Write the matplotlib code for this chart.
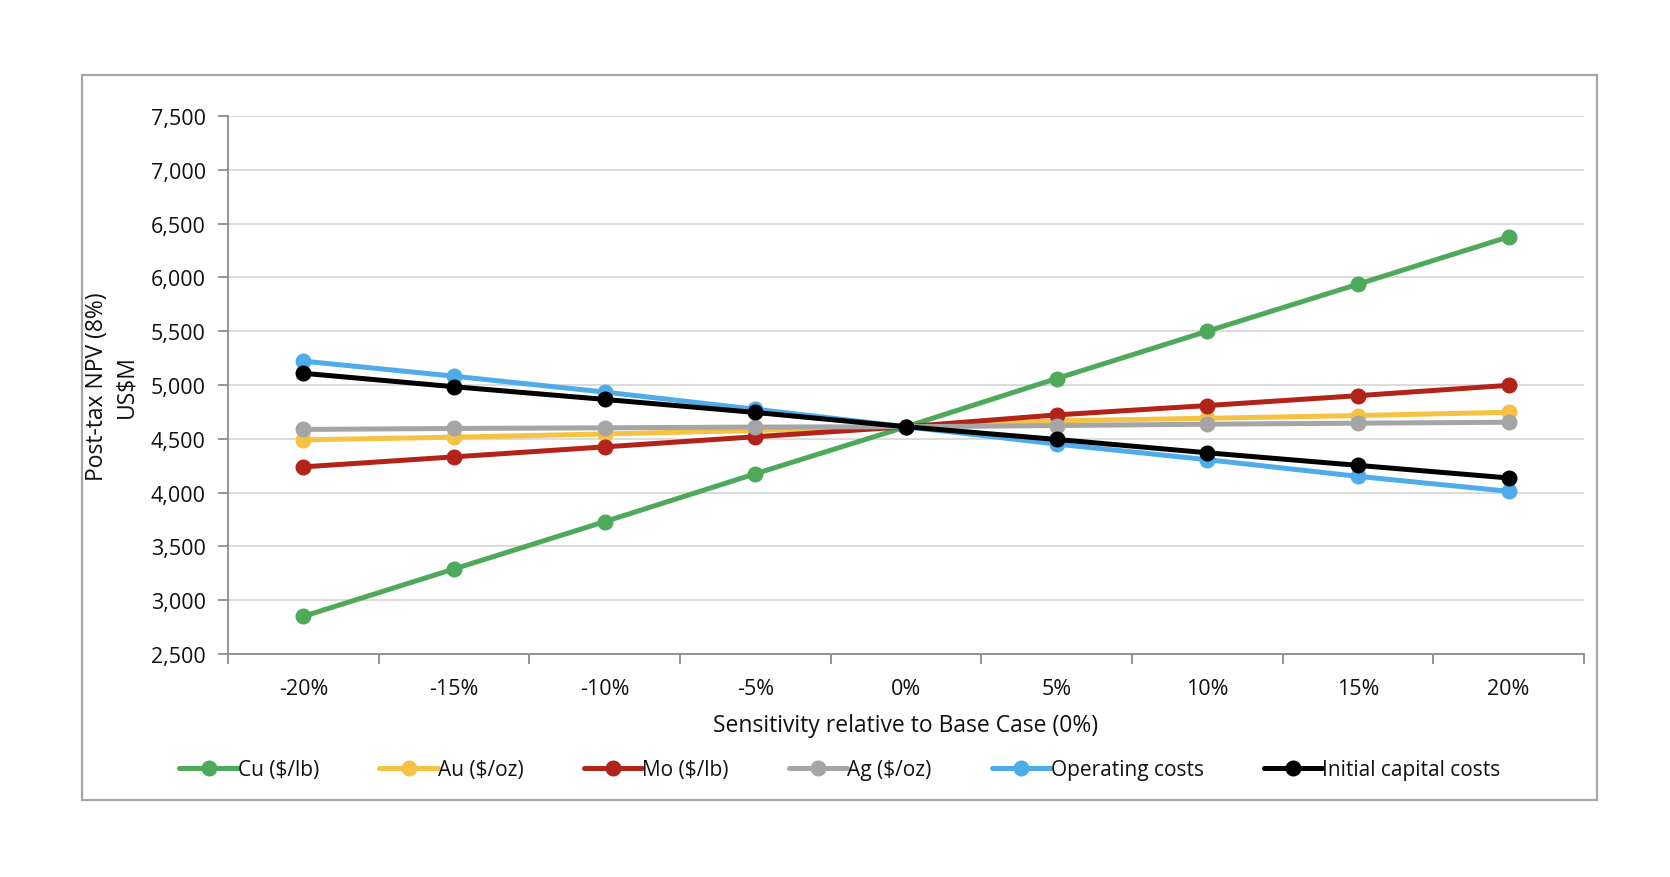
import numpy as np
import matplotlib
matplotlib.use("Agg")
import matplotlib.pyplot as plt
from matplotlib.patches import Rectangle
from matplotlib.ticker import FuncFormatter

plt.rcParams['font.family'] = ['Open Sans', 'DejaVu Sans']

categories = ['-20%', '-15%', '-10%', '-5%', '0%', '5%', '10%', '15%', '20%']
cu = [2850, 3290, 3730, 4175, 4612, 5060, 5500, 5937, 6377]
au = [4490, 4515, 4545, 4578, 4612, 4667, 4691, 4716, 4747]
mo = [4239, 4332, 4425, 4519, 4612, 4722, 4809, 4901, 4997]
ag = [4587, 4596, 4602, 4609, 4612, 4623, 4636, 4645, 4654]
opex = [5222, 5082, 4934, 4775, 4612, 4451, 4306, 4151, 4012]
capex = [5109, 4984, 4866, 4745, 4612, 4494, 4370, 4253, 4136]

series = [
    ('Cu ($/lb)', cu, '#4EA95B'),
    ('Au ($/oz)', au, '#F6C244'),
    ('Mo ($/lb)', mo, '#B2231A'),
    ('Ag ($/oz)', ag, '#A5A5A5'),
    ('Operating costs', opex, '#4EACE9'),
    ('Initial capital costs', capex, '#000000'),
]

TXT = '#111111'
W, H = 1670, 878
fig = plt.figure(figsize=(W / 100, H / 100), dpi=100)
fig.patch.set_facecolor('white')

L, R, T, B = 228, 1584, 117, 655
ax = fig.add_axes([L / W, 1 - B / H, (R - L) / W, (B - T) / H])

x = np.arange(len(categories))
for name, vals, col in series:
    ax.plot(x, vals, color=col, lw=3.6, marker='o', markersize=10.5,
            label=name, solid_capstyle='round', zorder=3)

ax.set_xlim(-0.5, len(categories) - 0.5)
ax.set_ylim(2500, 7500)
ax.set_yticks(np.arange(2500, 7501, 500))
ax.yaxis.set_major_formatter(FuncFormatter(lambda v, p: f'{int(v):,}'))
ax.grid(axis='y', color='#d9d9d9', lw=1.3, zorder=0)
ax.set_axisbelow(True)

ax.set_xticks(x)
ax.set_xticklabels(categories)
ax.set_xticks(np.arange(-0.5, len(categories)), minor=True)
ax.tick_params(axis='x', which='major', length=0, pad=17, labelsize=15.5, colors=TXT)
ax.tick_params(axis='x', which='minor', length=7, width=1.3, color='#8c8c8c')
ax.tick_params(axis='y', length=7, width=1.3, color='#8c8c8c', pad=9, labelsize=15.5, labelcolor=TXT)

for s in ['top', 'right']:
    ax.spines[s].set_visible(False)
for s in ['left', 'bottom']:
    ax.spines[s].set_color('#8c8c8c')
    ax.spines[s].set_linewidth(1.3)

ax.set_xlabel('Sensitivity relative to Base Case (0%)', fontsize=16.5, color=TXT)
ax.xaxis.set_label_coords(0.5, (B - 726) / (B - T))
ax.xaxis.label.set_va('center')

fig.text(112 / W, 1 - 387 / H, 'Post-tax NPV (8%)\nUS$M', rotation=90,
         ha='center', va='center', multialignment='center', fontsize=16.5,
         color=TXT, linespacing=1.3)

fig.legend(loc='center', bbox_to_anchor=(0.5 + 5 / W, 1 - 771 / H), ncol=6, frameon=False,
           fontsize=15, handlelength=2.8, handletextpad=0.0, columnspacing=2.9,
           markerscale=1.0, labelcolor=TXT)

fig.add_artist(Rectangle((82 / W, 1 - 801 / H), (1597 - 82) / W, (801 - 76) / H,
                         transform=fig.transFigure, fill=False, edgecolor='#a6a6a6', lw=1.6))

fig.savefig('out.png', dpi=100, facecolor='white')
